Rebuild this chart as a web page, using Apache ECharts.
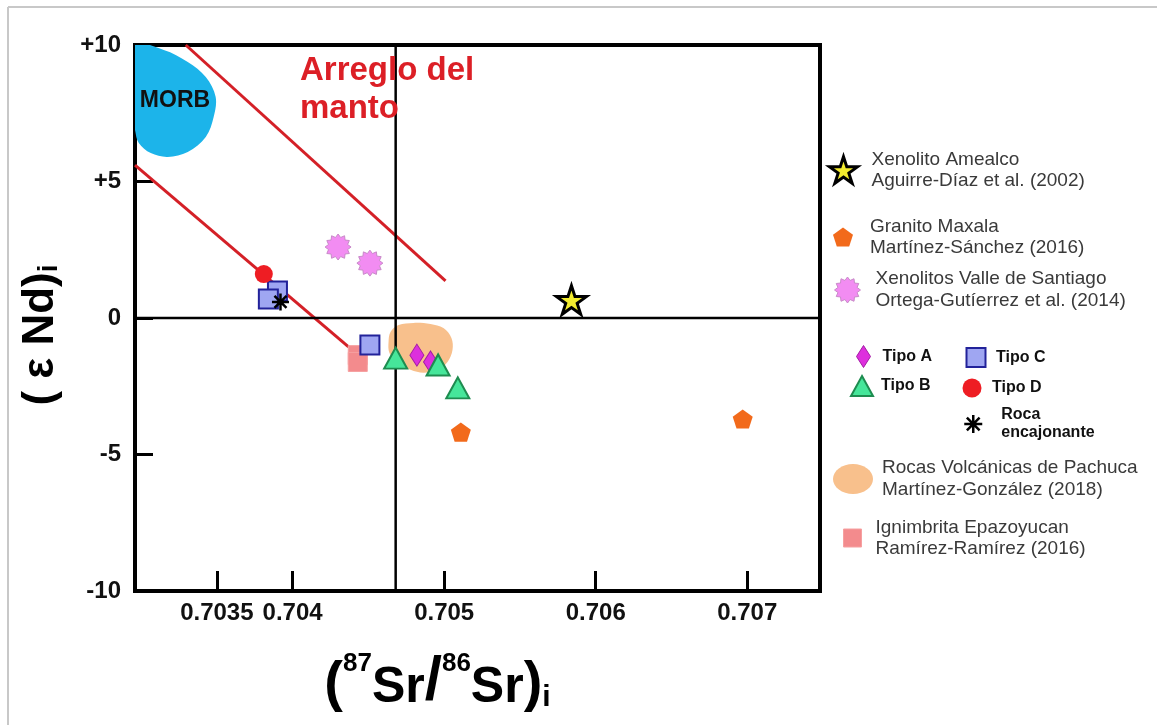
<!DOCTYPE html>
<html>
<head>
<meta charset="utf-8">
<title>eNd vs Sr</title>
<script src="https://cdn.jsdelivr.net/npm/echarts@6/dist/echarts.min.js"></script>
<style>
html, body { margin: 0; padding: 0; background: #fff; }
#main { width: 1157px; height: 725px; }
</style>
</head>
<body>
<div id="main"></div>
<script>
// axes
var xMin = 0.70296, xMax = 0.70748;
var yMin = -10, yMax = 10;
var xTickValues = [0.7035, 0.704, 0.705, 0.706, 0.707];
var xTickLabels = ['0.7035', '0.704', '0.705', '0.706', '0.707'];
var yTickValues = [-10, -5, 0, 5, 10];
var yTickLabels = ['-10', '-5', '0', '+5', '+10'];

// reference lines (bulk earth) and mantle array
var bulkEarthSr = 0.70468;
var bulkEarthNd = 0;
var mantleUpper = [[0.703295, 10.0], [0.705009, 1.36]];
var mantleLower = [[0.70296, 5.60], [0.704369, -1.06]];

// fields
var morbOutline = [
    [0.70296, 10.0], [0.703150, 9.82], [0.703308, 9.38], [0.703427, 8.83], [0.703492, 8.10],
    [0.703479, 7.36], [0.703427, 6.63], [0.703308, 6.08], [0.703176, 5.90], [0.703064, 6.04],
    [0.702985, 6.41], [0.70296, 6.89], [0.70290, 8.5]
];
var pachucaOutline = [
    [0.704646, -0.51], [0.704699, -0.26], [0.704798, -0.18], [0.704910, -0.22], [0.704995, -0.37],
    [0.705048, -0.73], [0.705055, -1.17], [0.705022, -1.61], [0.704956, -1.90], [0.704864, -2.01],
    [0.704778, -1.90], [0.704692, -1.65], [0.704639, -1.28], [0.704633, -0.88]
];

// samples [87Sr/86Sr, eNd]
var amealco = [[0.70584, 0.66]];
var maxala = [[0.70511, -4.18], [0.70697, -3.70]];
var valleSantiago = [[0.70430, 2.60], [0.70451, 2.01]];
var ignimbrita = [[0.70443, -1.36], [0.70443, -1.61]];
var tipoA = [[0.70482, -1.36], [0.70491, -1.61]];
var tipoB = [[0.70468, -1.47], [0.70496, -1.72], [0.70509, -2.56]];
var tipoC = [[0.70390, 0.99], [0.70384, 0.70], [0.70451, -0.99]];
var tipoD = [[0.70381, 1.61]];
var rocaEncajonante = [[0.70392, 0.59]];

var refs = {
    'Xenolito Amealco': 'Aguirre-Díaz et al. (2002)',
    'Granito Maxala': 'Martínez-Sánchez (2016)',
    'Xenolitos Valle de Santiago': 'Ortega-Gutíerrez et al. (2014)',
    'Rocas Volcánicas de Pachuca': 'Martínez-González (2018)',
    'Ignimbrita Epazoyucan': 'Ramírez-Ramírez (2016)'
};

var FONT = '"Liberation Sans", Arial, sans-serif';

function burstPath(n, r1, r2){
    var d = '';
    for (var i = 0; i < n * 2; i++) {
        var r = i % 2 ? r2 : r1;
        var a = Math.PI * i / n - Math.PI / 2;
        d += (i ? 'L' : 'M') + (r * Math.cos(a)).toFixed(2) + ',' + (r * Math.sin(a)).toFixed(2);
    }
    return 'path://' + d + 'Z';
}

var SYM = {
    star: 'path://M0,-10L2.25,-3.09L9.51,-3.09L3.63,1.18L5.88,8.09L0,3.82L-5.88,8.09L-3.63,1.18L-9.51,-3.09L-2.25,-3.09Z',
    pentagon: 'path://M0,-10L9.51,-3.09L5.88,8.09L-5.88,8.09L-9.51,-3.09Z',
    burst: burstPath(12, 10, 7.6),
    asterisk: 'path://M0,-10L0,10M-10,0L10,0M-7.07,-7.07L7.07,7.07M-7.07,7.07L7.07,-7.07',
    blob: 'path://M20,0C31,0 40,6.7 40,15C40,23.3 31,30 20,30C9,30 0,23.3 0,15C0,6.7 9,0 20,0Z'
};

var STY = {
    'MORB': {color: '#1cb4ea', opacity: 1},
    'Xenolito Amealco': {color: '#f3ec2e', borderColor: '#000', borderWidth: 3, opacity: 1},
    'Granito Maxala': {color: '#f26a1b', opacity: 1},
    'Xenolitos Valle de Santiago': {color: '#f28cf2', borderColor: '#c98ac9', borderWidth: 1, opacity: 1},
    'Rocas Volcánicas de Pachuca': {color: '#f8c08c', opacity: 1},
    'Ignimbrita Epazoyucan': {color: '#f38b8d', borderColor: '#f6a0a0', borderWidth: 1, opacity: 1},
    'Tipo A': {color: '#dd2fdd', borderColor: '#a41ca4', borderWidth: 1, opacity: 1},
    'Tipo B': {color: '#46e69a', borderColor: '#1e8c50', borderWidth: 2, opacity: 1},
    'Tipo C': {color: '#9fa6f2', borderColor: '#22229a', borderWidth: 2, opacity: 1},
    'Tipo D': {color: '#ee1d23', opacity: 1},
    'Roca encajonante': {color: '#000', borderColor: '#000', borderWidth: 2.5, opacity: 1}
};

function scatter(name, data, symbol, size, z){
    return {
        type: 'scatter', name: name, data: data, symbol: symbol, symbolSize: size,
        symbolKeepAspect: true, itemStyle: STY[name], z: z || 4
    };
}

function lineSeries(name, data, color, width){
    return {
        type: 'line', name: name, data: data, symbol: 'none', silent: true, z: 3,
        lineStyle: {color: color, width: width}
    };
}

function blobSeries(name, pts){
    return {
        type: 'custom', name: name, data: pts, clip: true, z: 1, silent: true,
        renderItem: function(params, api){
            if (params.dataIndex !== 0) return;
            var points = pts.map(function(p){ return api.coord(p); });
            return {
                type: 'polygon',
                shape: {points: points, smooth: 0.35},
                style: {fill: STY[name].color}
            };
        }
    };
}

function legendText(n){
    if (n === 'Roca encajonante') return 'Roca\nencajonante';
    return refs[n] ? n + '\n' + refs[n] : n;
}

// one legend box per entry so each sits where the original put it
function legendAt(name, icon, cx, cy, w, h, textX, font, lineH){
    var lines = legendText(name).split('\n').length;
    var blockH = Math.max(h, lines * lineH);
    var left = cx - w / 2;
    return {
        left: left, top: cy - blockH / 2, orient: 'vertical', padding: 0,
        itemWidth: w, itemHeight: h, itemGap: 0,
        data: [{name: name, icon: icon, itemStyle: STY[name]}],
        formatter: legendText,
        textStyle: {
            fontFamily: FONT, fontSize: font.size, fontWeight: font.weight, color: font.color,
            lineHeight: lineH, padding: [0, 0, 0, textX - (left + w + 5)]
        }
    };
}

var refFont = {size: 19, weight: 'normal', color: '#3a3a3a'};
var tipoFont = {size: 16, weight: 'bold', color: '#111'};

function drawChart(){
    var myChart = echarts.init(document.getElementById('main'));

    var option = {
        animation: false,
        backgroundColor: '#fff',
        tooltip: {trigger: 'item'},
        grid: {left: 135, right: 337, top: 45, bottom: 134, show: true, borderColor: '#000', borderWidth: 4},
        legend: [
            legendAt('Xenolito Amealco', SYM.star, 842, 170, 28, 28, 870, refFont, 21),
            legendAt('Granito Maxala', SYM.pentagon, 843, 237, 20, 20, 870, refFont, 21),
            legendAt('Xenolitos Valle de Santiago', SYM.burst, 847, 290, 26, 26, 875, refFont, 22),
            legendAt('Tipo A', 'diamond', 863, 356, 14, 22, 882, tipoFont, 20),
            legendAt('Tipo B', 'triangle', 861, 385, 22, 20, 880, tipoFont, 20),
            legendAt('Tipo C', 'rect', 975, 357, 19, 19, 995, tipoFont, 20),
            legendAt('Tipo D', 'circle', 972, 388, 19, 19, 992, tipoFont, 20),
            legendAt('Roca encajonante', SYM.asterisk, 972, 424, 18, 18, 1000, tipoFont, 18),
            legendAt('Rocas Volcánicas de Pachuca', SYM.blob, 853, 479, 40, 30, 882, refFont, 22),
            legendAt('Ignimbrita Epazoyucan', 'rect', 852, 538, 18, 18, 875, refFont, 21)
        ],
        xAxis: {
            type: 'value', min: xMin, max: xMax,
            name: '{p|(}{u|87}{b|Sr}{sl|/}{u|86}{b|Sr}{p|)}{s|i}',
            nameLocation: 'middle', nameGap: 60,
            nameTextStyle: {
                padding: [0, 80, 0, 0],
                rich: {
                    p: {fontFamily: FONT, fontSize: 56, fontWeight: 'bold', color: '#000', verticalAlign: 'bottom', lineHeight: 62},
                    u: {fontFamily: FONT, fontSize: 26, fontWeight: 'bold', color: '#000', verticalAlign: 'top', lineHeight: 62},
                    b: {fontFamily: FONT, fontSize: 50, fontWeight: 'bold', color: '#000', verticalAlign: 'bottom', lineHeight: 62},
                    sl: {fontFamily: FONT, fontSize: 62, fontWeight: 'bold', color: '#000', verticalAlign: 'bottom', lineHeight: 62},
                    s: {fontFamily: FONT, fontSize: 30, fontWeight: 'bold', color: '#000', verticalAlign: 'bottom', lineHeight: 50}
                }
            },
            axisLine: {onZero: false, lineStyle: {color: '#000', width: 4}},
            axisTick: {inside: true, length: 20, customValues: xTickValues, lineStyle: {color: '#000', width: 3}},
            axisLabel: {
                customValues: xTickValues, margin: 10,
                fontFamily: FONT, fontSize: 24, fontWeight: 'bold', color: '#111',
                formatter: function(v){ return xTickLabels[xTickValues.indexOf(v)]; }
            },
            splitLine: {show: false}
        },
        yAxis: {
            type: 'value', min: yMin, max: yMax, interval: 5,
            name: '{b|( ε Nd)}{s|i}',
            nameLocation: 'middle', nameRotate: 90, nameGap: 72,
            nameTextStyle: {
                padding: [0, 34, 0, 0],
                rich: {
                    b: {fontFamily: FONT, fontSize: 44, fontWeight: 'bold', color: '#000', verticalAlign: 'bottom', lineHeight: 50},
                    s: {fontFamily: FONT, fontSize: 28, fontWeight: 'bold', color: '#000', verticalAlign: 'bottom', lineHeight: 40}
                }
            },
            axisLine: {onZero: false, lineStyle: {color: '#000', width: 4}},
            axisTick: {inside: true, length: 18, lineStyle: {color: '#000', width: 3}},
            axisLabel: {
                margin: 14, fontFamily: FONT, fontSize: 24, fontWeight: 'bold', color: '#111',
                formatter: function(v){ return yTickLabels[yTickValues.indexOf(v)]; }
            },
            splitLine: {show: false}
        },
        graphic: [
            {type: 'line', shape: {x1: 8, y1: 7, x2: 1157, y2: 7}, style: {stroke: '#c8c8c8', lineWidth: 2}},
            {type: 'line', shape: {x1: 8, y1: 7, x2: 8, y2: 725}, style: {stroke: '#c8c8c8', lineWidth: 2}},
            {type: 'text', left: 300, top: 52, z: 10,
                style: {text: 'Arreglo del\nmanto', fill: '#dc1f26', font: 'bold 33px ' + FONT, lineHeight: 38}},
            {type: 'text', x: 175, y: 101, z: 10,
                style: {text: 'MORB', fill: '#111', font: 'bold 23px ' + FONT, align: 'center', verticalAlign: 'middle'}}
        ],
        series: [
            blobSeries('MORB', morbOutline),
            blobSeries('Rocas Volcánicas de Pachuca', pachucaOutline),
            lineSeries('Arreglo del manto 1', mantleUpper, '#d42027', 3),
            lineSeries('Arreglo del manto 2', mantleLower, '#d42027', 3),
            lineSeries('Bulk Earth Sr', [[bulkEarthSr, yMin], [bulkEarthSr, yMax]], '#000', 2.5),
            lineSeries('Bulk Earth Nd', [[xMin, bulkEarthNd], [xMax, bulkEarthNd]], '#000', 2.5),
            scatter('Xenolito Amealco', amealco, SYM.star, 30),
            scatter('Granito Maxala', maxala, SYM.pentagon, 20),
            scatter('Xenolitos Valle de Santiago', valleSantiago, SYM.burst, 26),
            scatter('Ignimbrita Epazoyucan', ignimbrita, 'rect', 19),
            scatter('Tipo A', tipoA, 'diamond', [14, 22]),
            scatter('Tipo B', tipoB, 'triangle', [23, 21]),
            scatter('Tipo C', tipoC, 'rect', 19),
            scatter('Tipo D', tipoD, 'circle', 18),
            scatter('Roca encajonante', rocaEncajonante, SYM.asterisk, 17, 5)
        ]
    };

    myChart.setOption(option);
}

drawChart();
</script>
</body>
</html>
